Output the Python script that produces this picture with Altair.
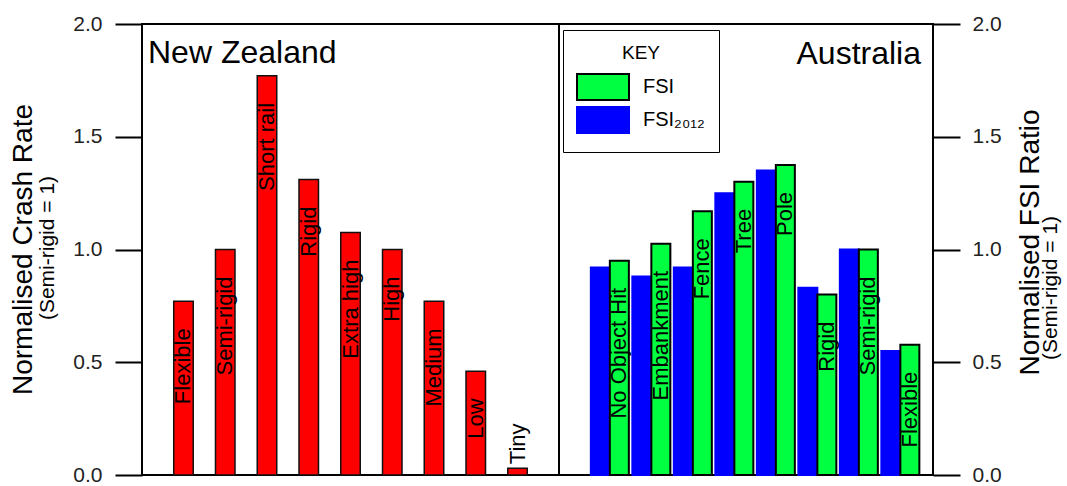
import altair as alt
import pandas as pd

# ---- data ----
nz_categories = ["Flexible", "Semi-rigid", "Short rail", "Rigid", "Extra high",
                 "High", "Medium", "Low", "Tiny"]
nz_values = [0.77, 1.00, 1.77, 1.31, 1.075, 1.00, 0.77, 0.46, 0.03]

au_categories = ["No Object Hit", "Embankment", "Fence", "Tree", "Pole",
                 "Rigid", "Semi-rigid", "Flexible"]
au_fsi = [0.95, 1.025, 1.17, 1.30, 1.375, 0.80, 1.00, 0.578]
au_fsi2012 = [0.92, 0.88, 0.92, 1.25, 1.35, 0.83, 1.00, 0.55]

series_names = ["FSI", "FSI\u2082\u2080\u2081\u2082"]
y_ticks = [0.0, 0.5, 1.0, 1.5, 2.0]

nz_df = pd.DataFrame({"category": nz_categories, "value": nz_values})
au_df = pd.DataFrame({
    "category": au_categories + au_categories,
    "series": [series_names[1]] * len(au_categories) + [series_names[0]] * len(au_categories),
    "value": au_fsi2012 + au_fsi,
})

W, H = 791, 451
DIV = 417
FONT = "Liberation Sans"


def y_enc(orient, title, title_x, title_y, pad):
    return alt.Y(
        "value:Q",
        scale=alt.Scale(domain=[0, 2], nice=False, zero=True),
        axis=alt.Axis(
            orient=orient, values=y_ticks, format=".1f", title=title,
            titleX=title_x, titleY=title_y, titleAngle=270, titleAlign="center",
            titleBaseline="middle", titleFontSize=28, titleFontWeight="normal",
            titleColor="black", tickSize=27, tickWidth=2, tickColor="black",
            labelPadding=pad, labelFontSize=21, labelColor="#222",
            domain=False, grid=False,
        ),
    )


y_left = y_enc("left", "Normalised Crash Rate", -119, 225, 13)
y_right = y_enc("right", "Normalised FSI Ratio", 97, 218, 12)

x_left = alt.X("category:N", sort=nz_categories, axis=None,
               scale=alt.Scale(domain=nz_categories, range=[0, DIV],
                               paddingInner=0.533, paddingOuter=0.76, align=0.5))
x_right = alt.X("category:N", sort=au_categories, axis=None,
                scale=alt.Scale(domain=au_categories, range=[DIV, W],
                                paddingInner=0.084, paddingOuter=0.548, align=0.70))
xoff = alt.XOffset("series:N", scale=alt.Scale(domain=[series_names[1], series_names[0]],
                                               paddingInner=0, paddingOuter=0))

# ---- New Zealand panel ----
nz_base = alt.Chart(nz_df)
nz_bars = nz_base.mark_bar(color="#ff0000", stroke="#111", strokeWidth=1.5).encode(
    x=x_left, y=y_left)
nz_text_in = nz_base.transform_filter(alt.datum.value >= 0.2).mark_text(
    angle=270, align="right", baseline="middle", dx=-27, fontSize=22, color="black"
).encode(x=x_left, y=y_left, text="category:N")
nz_text_above = nz_base.transform_filter(alt.datum.value < 0.2).mark_text(
    angle=270, align="left", baseline="middle", dx=4, fontSize=22, color="black"
).encode(x=x_left, y=y_left, text="category:N")
nz_title = alt.Chart(pd.DataFrame({"t": ["New Zealand"]})).mark_text(
    align="left", baseline="alphabetic", fontSize=32, color="black"
).encode(x=alt.value(6), y=alt.value(39), text="t:N")
nz_sub = alt.Chart(pd.DataFrame({"t": ["(Semi-rigid = 1)"]})).mark_text(
    angle=270, align="center", baseline="middle", fontSize=21, color="black"
).encode(x=alt.value(-94), y=alt.value(224), text="t:N")
left = alt.layer(nz_bars, nz_text_in, nz_text_above, nz_title, nz_sub)

# ---- Australia panel ----
legend = alt.Legend(
    title="KEY", orient="none", legendX=421, legendY=6, direction="vertical",
    symbolType="M-1.857,-0.929H1.857V0.929H-1.857Z", symbolSize=784,
    symbolStrokeWidth=2, symbolOffset=11, labelFontSize=20, labelColor="black",
    labelOffset=25, titleFontSize=19, titleFontWeight="normal", titleColor="black",
    titleAnchor="middle", strokeColor="black", fillColor="white", padding=14,
    rowPadding=-5, titlePadding=9,
)
au_base = alt.Chart(au_df)
au_bars = au_base.mark_bar(strokeWidth=2).encode(
    x=x_right, xOffset=xoff, y=y_right,
    fill=alt.Fill("series:N", scale=alt.Scale(domain=series_names, range=["#00ff40", "#0000ff"]),
                  legend=legend),
    stroke=alt.Stroke("series:N", scale=alt.Scale(domain=series_names, range=["black", "#0000ff"]),
                      legend=legend),
)
au_text = au_base.transform_filter(alt.datum.series == series_names[0]).mark_text(
    angle=270, align="right", baseline="middle", dx=-27, fontSize=22, color="black"
).encode(x=x_right, xOffset=xoff, y=y_right, text="category:N")
au_title = alt.Chart(pd.DataFrame({"t": ["Australia"]})).mark_text(
    align="right", baseline="alphabetic", fontSize=32, color="black"
).encode(x=alt.value(779), y=alt.value(40), text="t:N")
au_sub = alt.Chart(pd.DataFrame({"t": ["(Semi-rigid = 1)"]})).mark_text(
    angle=270, align="center", baseline="middle", fontSize=21, color="black"
).encode(x=alt.value(909), y=alt.value(264), text="t:N")
right = alt.layer(au_bars, au_text, au_title, au_sub)

divider = alt.Chart(pd.DataFrame({"d": [0]})).mark_rule(color="black", strokeWidth=2).encode(
    x=alt.value(DIV), y=alt.value(0), y2=alt.value(H))

chart = alt.layer(left, right, divider).resolve_scale(
    x="independent", y="independent"
).properties(
    width=W, height=H,
    autosize=alt.AutoSizeParams(type="none"),
    padding={"left": 142, "top": 24, "right": 1067 - 142 - W, "bottom": 486 - 24 - H},
).configure(font=FONT).configure_view(stroke="black", strokeWidth=2)

chart.save("out.html", embed_options={"renderer": "svg", "actions": False})
